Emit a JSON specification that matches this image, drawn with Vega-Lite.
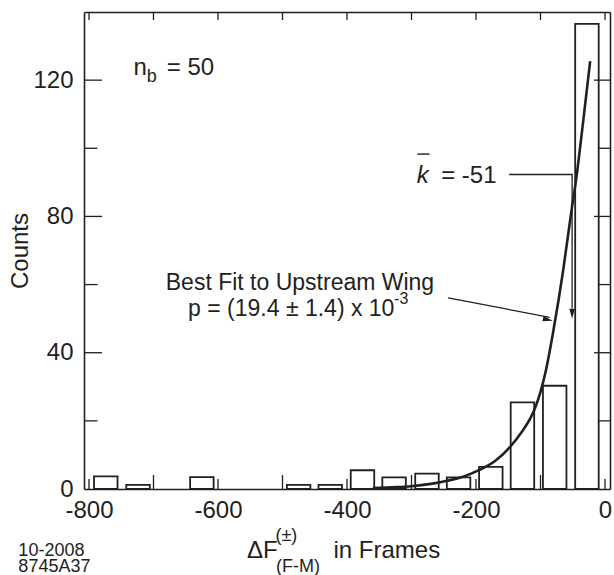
{
  "$schema": "https://vega.github.io/schema/vega-lite/v6.json",
  "width": 526,
  "height": 477,
  "autosize": {"type": "none"},
  "padding": {"left": 84, "top": 12, "right": 4, "bottom": 86},
  "background": "white",
  "config": {
    "view": {"stroke": null},
    "font": "Liberation Sans",
    "text": {"font": "Liberation Sans", "color": "#231f20"},
    "tick": {"color": "#231f20", "thickness": 1.3, "opacity": 1},
    "axis": {
      "grid": false,
      "ticks": false,
      "domainColor": "#231f20",
      "domainWidth": 1.6,
      "labelColor": "#231f20",
      "labelFont": "Liberation Sans",
      "labelFontSize": 24,
      "titleFont": "Liberation Sans",
      "titleColor": "#231f20",
      "titleFontWeight": "normal",
      "titleFontSize": 24,
      "labelFlush": false,
      "labelOverlap": false
    }
  },
  "datasets": {
    "bins": [
      {"center": -774, "count": 3.7},
      {"center": -724, "count": 1.2},
      {"center": -625, "count": 3.5},
      {"center": -475, "count": 1.2},
      {"center": -426, "count": 1.2},
      {"center": -376, "count": 5.5},
      {"center": -327, "count": 3.4},
      {"center": -276, "count": 4.5},
      {"center": -227, "count": 3.4},
      {"center": -177, "count": 6.5},
      {"center": -128, "count": 25.4},
      {"center": -78, "count": 30.3},
      {"center": -28, "count": 136.5}
    ],
    "fit": [
      {"frames": -360, "count": 0.3},
      {"frames": -330, "count": 0.5},
      {"frames": -300, "count": 0.8},
      {"frames": -270, "count": 1.5},
      {"frames": -245, "count": 2.4},
      {"frames": -220, "count": 3.6},
      {"frames": -198, "count": 5.3},
      {"frames": -170, "count": 8.3},
      {"frames": -147, "count": 12.4},
      {"frames": -130, "count": 16.5},
      {"frames": -109, "count": 23.5},
      {"frames": -100, "count": 28.5},
      {"frames": -92, "count": 34.5},
      {"frames": -80, "count": 46.5},
      {"frames": -65, "count": 64},
      {"frames": -51, "count": 83},
      {"frames": -45, "count": 90.5},
      {"frames": -35, "count": 106},
      {"frames": -23, "count": 125.6}
    ],
    "xMajor": [{"frames": -800}, {"frames": -600}, {"frames": -400}, {"frames": -200}, {"frames": 0}],
    "xMinor": [{"frames": -700}, {"frames": -500}, {"frames": -300}, {"frames": -100}],
    "yMajor": [{"count": 40}, {"count": 80}, {"count": 120}],
    "yMinor": [{"count": 20}, {"count": 60}, {"count": 100}],
    "leaders": [
      {"arrow": "kbar", "step": 1, "x": -148.6, "y": 92.3},
      {"arrow": "kbar", "step": 2, "x": -51, "y": 92.3},
      {"arrow": "kbar", "step": 3, "x": -51, "y": 53},
      {"arrow": "fit", "step": 1, "x": -243.3, "y": 56.1},
      {"arrow": "fit", "step": 2, "x": -86, "y": 50.4}
    ],
    "headDown": [{"x": -51, "y": 50}],
    "headFit": [{"x": -81, "y": 49.4}],
    "overbar": [{"x": -291, "x2": -272, "y": 98.3}],
    "big": [
      {"x": -731, "y": 121.5, "text": "n"},
      {"x": -679.4, "y": 121.5, "text": "= 50"},
      {"x": -254, "y": 89.8, "text": "= -51"},
      {"x": -555, "y": -20.2, "text": "ΔF"},
      {"x": -421, "y": -20.2, "text": "in Frames"}
    ],
    "small": [
      {"x": -710.3, "y": 119.4, "text": "b"},
      {"x": -511, "y": -15.4, "text": "(±)"},
      {"x": -510, "y": -24.4, "text": "(F-M)"}
    ],
    "note": [
      {"x": -681, "y": 58.4, "text": "Best Fit to Upstream Wing"},
      {"x": -646.4, "y": 50.9, "text": "p = (19.4 ± 1.4) x 10"}
    ],
    "exponent": [{"x": -327, "y": 54.2, "text": "-3"}],
    "kletter": [{"x": -292, "y": 89.8, "text": "k"}],
    "stamp": [
      {"x": -909.5, "y": -19.6, "text": "10-2008"},
      {"x": -909.5, "y": -24.3, "text": "8745A37"}
    ]
  },
  "layer": [
    {
      "data": {"name": "bins"},
      "mark": {"type": "bar", "width": 23.5, "fill": "white", "stroke": "#231f20", "strokeWidth": 1.8},
      "encoding": {
        "x": {
          "field": "center", "type": "quantitative",
          "scale": {"domain": [-800, 0], "nice": false, "zero": false},
          "axis": {
            "orient": "bottom", "title": null,
            "values": [-800, -600, -400, -200, 0],
            "labelExpr": "'' + datum.value",
            "labelPadding": 9
          }
        },
        "y": {
          "field": "count", "type": "quantitative",
          "scale": {"domain": [0, 140], "nice": false, "zero": true},
          "axis": {
            "orient": "left", "title": "Counts",
            "values": [0, 40, 80, 120],
            "labelExpr": "'' + datum.value",
            "labelPadding": 11,
            "titlePadding": 0
          }
        }
      }
    },
    {
      "data": {"name": "fit"},
      "mark": {"type": "line", "interpolate": "monotone", "stroke": "#231f20", "strokeWidth": 2.6},
      "encoding": {
        "x": {
          "field": "frames", "type": "quantitative",
          "scale": {"domain": [-800, 0], "nice": false, "zero": false},
          "axis": {"orient": "top", "title": null, "labels": false}
        },
        "y": {
          "field": "count", "type": "quantitative",
          "scale": {"domain": [0, 140], "nice": false, "zero": true},
          "axis": {"orient": "right", "title": null, "labels": false}
        }
      }
    },
    {
      "data": {"name": "xMajor"},
      "mark": {"type": "tick", "orient": "vertical", "size": 20, "clip": true},
      "encoding": {
        "x": {"field": "frames", "type": "quantitative", "scale": {"domain": [-800, 0], "nice": false, "zero": false}, "axis": null},
        "y": {"datum": 0, "type": "quantitative", "scale": {"domain": [0, 140], "nice": false}, "axis": null}
      }
    },
    {
      "data": {"name": "xMinor"},
      "mark": {"type": "tick", "orient": "vertical", "size": 28, "clip": true},
      "encoding": {
        "x": {"field": "frames", "type": "quantitative", "scale": {"domain": [-800, 0], "nice": false, "zero": false}, "axis": null},
        "y": {"datum": 0, "type": "quantitative", "scale": {"domain": [0, 140], "nice": false}, "axis": null}
      }
    },
    {
      "data": {"name": "xMinor"},
      "mark": {"type": "tick", "orient": "vertical", "size": 16, "clip": true},
      "encoding": {
        "x": {"field": "frames", "type": "quantitative", "scale": {"domain": [-800, 0], "nice": false, "zero": false}, "axis": null},
        "y": {"datum": 140, "type": "quantitative", "scale": {"domain": [0, 140], "nice": false}, "axis": null}
      }
    },
    {
      "data": {"name": "xMajor"},
      "mark": {"type": "tick", "orient": "vertical", "size": 16, "clip": true},
      "encoding": {
        "x": {"field": "frames", "type": "quantitative", "scale": {"domain": [-800, 0], "nice": false, "zero": false}, "axis": null},
        "y": {"datum": 140, "type": "quantitative", "scale": {"domain": [0, 140], "nice": false}, "axis": null}
      }
    },
    {
      "data": {"name": "yMajor"},
      "mark": {"type": "tick", "orient": "horizontal", "size": 26, "clip": true},
      "encoding": {
        "x": {"datum": -800, "type": "quantitative", "scale": {"domain": [-800, 0], "nice": false, "zero": false}, "axis": null},
        "y": {"field": "count", "type": "quantitative", "scale": {"domain": [0, 140], "nice": false}, "axis": null}
      }
    },
    {
      "data": {"name": "yMinor"},
      "mark": {"type": "tick", "orient": "horizontal", "size": 17, "clip": true},
      "encoding": {
        "x": {"datum": -800, "type": "quantitative", "scale": {"domain": [-800, 0], "nice": false, "zero": false}, "axis": null},
        "y": {"field": "count", "type": "quantitative", "scale": {"domain": [0, 140], "nice": false}, "axis": null}
      }
    },
    {
      "data": {"name": "yMajor"},
      "mark": {"type": "tick", "orient": "horizontal", "size": 22, "clip": true},
      "encoding": {
        "x": {"datum": 0, "type": "quantitative", "scale": {"domain": [-800, 0], "nice": false, "zero": false}, "axis": null},
        "y": {"field": "count", "type": "quantitative", "scale": {"domain": [0, 140], "nice": false}, "axis": null}
      }
    },
    {
      "data": {"name": "yMinor"},
      "mark": {"type": "tick", "orient": "horizontal", "size": 14, "clip": true},
      "encoding": {
        "x": {"datum": 0, "type": "quantitative", "scale": {"domain": [-800, 0], "nice": false, "zero": false}, "axis": null},
        "y": {"field": "count", "type": "quantitative", "scale": {"domain": [0, 140], "nice": false}, "axis": null}
      }
    },
    {
      "data": {"name": "leaders"},
      "mark": {"type": "line", "stroke": "#231f20", "strokeWidth": 1.3},
      "encoding": {
        "x": {"field": "x", "type": "quantitative", "scale": {"domain": [-800, 0], "nice": false, "zero": false}, "axis": null},
        "y": {"field": "y", "type": "quantitative", "scale": {"domain": [0, 140], "nice": false}, "axis": null},
        "detail": {"field": "arrow"},
        "order": {"field": "step"}
      }
    },
    {
      "data": {"name": "headDown"},
      "mark": {"type": "point", "shape": "M0,0 L-0.55,-2 L0.55,-2 Z", "size": 100, "filled": true, "fill": "#231f20", "opacity": 1, "strokeWidth": 0},
      "encoding": {
        "x": {"field": "x", "type": "quantitative", "scale": {"domain": [-800, 0], "nice": false, "zero": false}, "axis": null},
        "y": {"field": "y", "type": "quantitative", "scale": {"domain": [0, 140], "nice": false}, "axis": null}
      }
    },
    {
      "data": {"name": "headFit"},
      "mark": {"type": "point", "shape": "M0,0 L-2,-0.55 L-2,0.55 Z", "angle": 12, "size": 100, "filled": true, "fill": "#231f20", "opacity": 1, "strokeWidth": 0},
      "encoding": {
        "x": {"field": "x", "type": "quantitative", "scale": {"domain": [-800, 0], "nice": false, "zero": false}, "axis": null},
        "y": {"field": "y", "type": "quantitative", "scale": {"domain": [0, 140], "nice": false}, "axis": null}
      }
    },
    {
      "data": {"name": "overbar"},
      "mark": {"type": "rule", "stroke": "#231f20", "strokeWidth": 1.4},
      "encoding": {
        "x": {"field": "x", "type": "quantitative", "scale": {"domain": [-800, 0], "nice": false, "zero": false}, "axis": null},
        "x2": {"field": "x2"},
        "y": {"field": "y", "type": "quantitative", "scale": {"domain": [0, 140], "nice": false}, "axis": null}
      }
    },
    {
      "data": {"name": "big"},
      "mark": {"type": "text", "align": "left", "baseline": "alphabetic", "fontSize": 24},
      "encoding": {
        "x": {"field": "x", "type": "quantitative", "scale": {"domain": [-800, 0], "nice": false, "zero": false}, "axis": null},
        "y": {"field": "y", "type": "quantitative", "scale": {"domain": [0, 140], "nice": false}, "axis": null},
        "text": {"field": "text"}
      }
    },
    {
      "data": {"name": "small"},
      "mark": {"type": "text", "align": "left", "baseline": "alphabetic", "fontSize": 18},
      "encoding": {
        "x": {"field": "x", "type": "quantitative", "scale": {"domain": [-800, 0], "nice": false, "zero": false}, "axis": null},
        "y": {"field": "y", "type": "quantitative", "scale": {"domain": [0, 140], "nice": false}, "axis": null},
        "text": {"field": "text"}
      }
    },
    {
      "data": {"name": "note"},
      "mark": {"type": "text", "align": "left", "baseline": "alphabetic", "fontSize": 23},
      "encoding": {
        "x": {"field": "x", "type": "quantitative", "scale": {"domain": [-800, 0], "nice": false, "zero": false}, "axis": null},
        "y": {"field": "y", "type": "quantitative", "scale": {"domain": [0, 140], "nice": false}, "axis": null},
        "text": {"field": "text"}
      }
    },
    {
      "data": {"name": "exponent"},
      "mark": {"type": "text", "align": "left", "baseline": "alphabetic", "fontSize": 16},
      "encoding": {
        "x": {"field": "x", "type": "quantitative", "scale": {"domain": [-800, 0], "nice": false, "zero": false}, "axis": null},
        "y": {"field": "y", "type": "quantitative", "scale": {"domain": [0, 140], "nice": false}, "axis": null},
        "text": {"field": "text"}
      }
    },
    {
      "data": {"name": "kletter"},
      "mark": {"type": "text", "align": "left", "baseline": "alphabetic", "fontSize": 24, "fontStyle": "italic"},
      "encoding": {
        "x": {"field": "x", "type": "quantitative", "scale": {"domain": [-800, 0], "nice": false, "zero": false}, "axis": null},
        "y": {"field": "y", "type": "quantitative", "scale": {"domain": [0, 140], "nice": false}, "axis": null},
        "text": {"field": "text"}
      }
    },
    {
      "data": {"name": "stamp"},
      "mark": {"type": "text", "align": "left", "baseline": "alphabetic", "fontSize": 18},
      "encoding": {
        "x": {"field": "x", "type": "quantitative", "scale": {"domain": [-800, 0], "nice": false, "zero": false}, "axis": null},
        "y": {"field": "y", "type": "quantitative", "scale": {"domain": [0, 140], "nice": false}, "axis": null},
        "text": {"field": "text"}
      }
    }
  ],
  "resolve": {"axis": {"x": "independent", "y": "independent"}}
}
